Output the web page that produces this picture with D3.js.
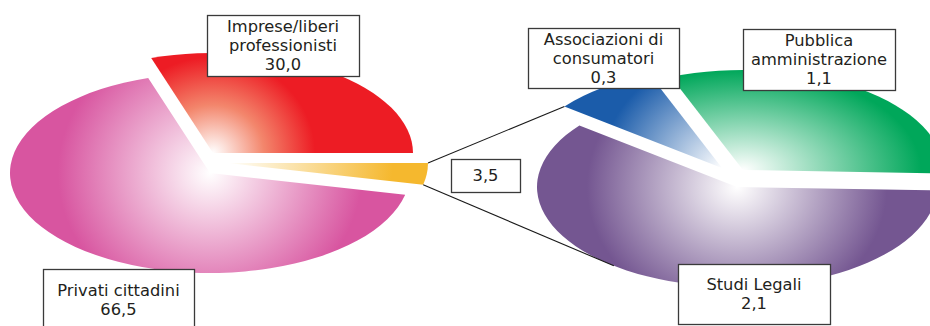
<!DOCTYPE html>
<html>
<head>
<meta charset="utf-8">
<script src="https://cdn.jsdelivr.net/npm/d3@7"></script>
<style>
  html, body { margin: 0; padding: 0; background: #ffffff; }
  svg { display: block; }
  text { font-family: "DejaVu Sans", Verdana, sans-serif; }
</style>
</head>
<body>
<svg id="chart" width="930" height="326"></svg>
<script>
// Main pie categories and shares (%)
const mainCategories = ["Privati cittadini", "Imprese/liberi professionisti"];
const mainValues = [66.5, 30.0];

// Breakdown of the remaining share, shown in the secondary pie
const detailCategories = ["Studi Legali", "Associazioni di consumatori", "Pubblica amministrazione"];
const detailValues = [2.1, 0.3, 1.1];

// The broken-out share equals the sum of its breakdown
const otherValue = d3.sum(detailValues);

// ---- layout and style ----
const RX = 200;          // pie radius
const TILT = 0.5;        // vertical squash for the tilted look
const fmt = v => d3.format(".1f")(v).replace(".", ",");

// gr: horizontal / vertical reach of the white-to-colour shading, mid: optional tint half way
const mainSlices = [
  { name: null, value: otherValue, color: "#F5B82E", dx: 18, dy: -10, gr: [165, 120], box: { x: 451, y: 159, w: 69, h: 33 } },
  { name: mainCategories[0], value: mainValues[0], color: "#D855A0", dx: 0, dy: 0, gr: [152, 140], box: { x: 43, y: 269, w: 151, h: 61 } },
  { name: mainCategories[1], value: mainValues[1], color: "#ED1C24", mid: "#F3866C", dx: 3, dy: -20, gr: [102, 96], box: { x: 207, y: 15, w: 152, h: 61 } }
];
const detailSlices = [
  { name: detailCategories[0], value: detailValues[0], color: "#745691", dx: 0, dy: 0, gr: [150, 130], box: { x: 678, y: 264, w: 152, h: 60 } },
  { name: detailCategories[1], value: detailValues[1], color: "#1B5CAA", dx: -15, dy: -19, gr: [120, 110], box: { x: 528, y: 28, w: 151, h: 60 } },
  { name: detailCategories[2], value: detailValues[2], color: "#00A75A", dx: 6, dy: -17, gr: [178, 100], box: { x: 743, y: 29, w: 152, h: 61 } }
];

const mainCenter = [210, 173];
const detailCenter = [737, 187];

const svg = d3.select("#chart");
const defs = svg.append("defs");
const arc = d3.arc().innerRadius(0).outerRadius(RX);

function layout(slices, start) {
  return d3.pie().sort(null).value(d => d.value)
    .startAngle(start).endAngle(start + 2 * Math.PI)(slices);
}

// screen position of a point on a slice rim
function rimPoint(center, d, angle) {
  return [
    center[0] + d.data.dx + RX * Math.sin(angle),
    center[1] + d.data.dy - RX * Math.cos(angle) * TILT
  ];
}

function drawPie(arcs, center, idPrefix) {
  const g = svg.append("g");
  arcs.forEach((d, i) => {
    const id = idPrefix + i;
    const [gx, gy] = d.data.gr;
    const grad = defs.append("radialGradient")
      .attr("id", id)
      .attr("gradientUnits", "userSpaceOnUse")
      .attr("cx", 0).attr("cy", 0).attr("r", 1)
      .attr("gradientTransform", `scale(${gx},${gy / TILT})`);
    const base = d3.color(d.data.color);
    grad.append("stop").attr("offset", 0).attr("stop-color", "#ffffff");
    if (d.data.mid) {
      grad.append("stop").attr("offset", 0.5).attr("stop-color", d.data.mid);
    } else {
      grad.append("stop").attr("offset", 0.06).attr("stop-color", d3.interpolateRgb("#ffffff", base)(0.06));
    }
    grad.append("stop").attr("offset", 1).attr("stop-color", base.formatHex());

    g.append("path")
      .attr("transform", `translate(${center[0] + d.data.dx},${center[1] + d.data.dy}) scale(1,${TILT})`)
      .attr("d", arc(d))
      .attr("fill", `url(#${id})`);
  });
}

const mainArcs = layout(mainSlices, Math.PI / 2);
const detailArcs = layout(detailSlices, 92 * Math.PI / 180);

drawPie(mainArcs, mainCenter, "gm");
drawPie(detailArcs, detailCenter, "gd");

// connector lines from the broken-out slice to the secondary pie
const other = mainArcs[0];
const assoc = detailArcs[1];
const studi = detailArcs[0];
const p1 = rimPoint(mainCenter, other, other.startAngle);
const p2 = rimPoint(detailCenter, assoc, assoc.startAngle);
const p3 = rimPoint(mainCenter, other, other.endAngle);
const p4 = rimPoint(detailCenter, studi, assoc.startAngle - Math.PI / 2);
svg.append("g").attr("stroke", "#1a1a1a").attr("stroke-width", 1.1).attr("fill", "none")
  .selectAll("line").data([[p1, p2], [p3, p4]]).join("line")
  .attr("x1", d => d[0][0]).attr("y1", d => d[0][1])
  .attr("x2", d => d[1][0]).attr("y2", d => d[1][1]);

// data labels
const FS = 16.3, LH = 19;
const labels = svg.append("g");
function wrapLines(name, maxW) {
  const probe = labels.append("text").attr("font-size", FS);
  const words = name.split(" ");
  const lines = [];
  let cur = "";
  words.forEach(w => {
    const test = cur ? cur + " " + w : w;
    probe.text(test);
    if (cur && probe.node().getComputedTextLength() > maxW) {
      lines.push(cur);
      cur = w;
    } else {
      cur = test;
    }
  });
  if (cur) lines.push(cur);
  probe.remove();
  return lines;
}

[...mainArcs, ...detailArcs].forEach(d => {
  const b = d.data.box;
  const lines = d.data.name ? wrapLines(d.data.name, b.w - 10) : [];
  lines.push(fmt(d.data.value));
  labels.append("rect")
    .attr("x", b.x + 0.5).attr("y", b.y + 0.5)
    .attr("width", b.w).attr("height", b.h)
    .attr("fill", "#ffffff").attr("stroke", "#3a3a3a").attr("stroke-width", 1.3);
  const cy = b.y + b.h / 2;
  const t = labels.append("text")
    .attr("font-size", FS).attr("fill", "#231F20").attr("text-anchor", "middle");
  lines.forEach((ln, k) => {
    t.append("tspan")
      .attr("x", b.x + b.w / 2)
      .attr("y", cy + (k - (lines.length - 1) / 2) * LH + FS * 0.35)
      .text(ln);
  });
});
</script>
</body>
</html>
